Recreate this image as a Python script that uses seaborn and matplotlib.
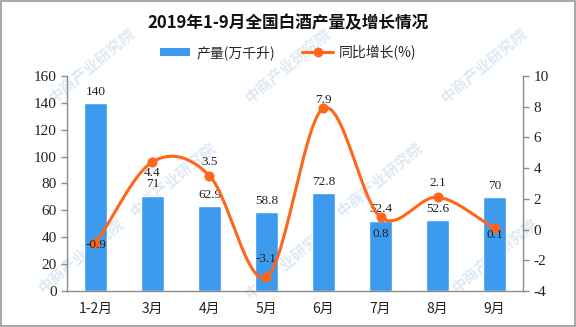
import numpy as np
import pandas as pd
import matplotlib
matplotlib.use("Agg")
import matplotlib.pyplot as plt
import seaborn as sns
from matplotlib.lines import Line2D
from matplotlib.patches import Patch, Rectangle

sns.set_theme(style="white")
plt.rcParams["font.family"] = ["Noto Sans CJK SC", "DejaVu Sans"]
plt.rcParams["axes.unicode_minus"] = False

# Data
months = ["1-2月", "3月", "4月", "5月", "6月", "7月", "8月", "9月"]
output = [140, 71, 62.9, 58.8, 72.8, 52.4, 52.6, 70]
growth = [-0.9, 4.4, 3.5, -3.1, 7.9, 0.8, 2.1, 0.1]
left_ticks = [0, 20, 40, 60, 80, 100, 120, 140, 160]
right_ticks = [-4, -2, 0, 2, 4, 6, 8, 10]

title = "2019年1-9月全国白酒产量及增长情况"
bar_name = "产量(万千升)"
line_name = "同比增长(%)"

BAR_C = "#3D9BEF"
LINE_C = "#FF661A"
AX_C = "#8C8C8C"

df = pd.DataFrame({"month": months, "output": output, "growth": growth})

fig = plt.figure(figsize=(5.76, 3.27), dpi=100)

# Watermark, drawn first so everything sits on top of it
wm = "中商产业研究院"
for (wx, wy) in [(0.16, 0.80), (0.50, 0.80), (0.84, 0.80),
                 (0.30, 0.45), (0.66, 0.45),
                 (0.14, 0.22), (0.50, 0.20), (0.86, 0.22)]:
    fig.text(wx, wy, wm, rotation=40, ha="center", va="center", fontsize=11,
             color="#DDEAF6", zorder=-5, fontweight="bold")

ax = fig.add_axes([0.1163, 0.110, 0.7917, 0.658])
ax.patch.set_alpha(0)

sns.barplot(data=df, x="month", y="output", color=BAR_C, width=0.42,
            saturation=1, ax=ax, zorder=2)
ax.set_ylim(0, 160)
ax.set_xlim(-0.5, len(months) - 0.5)
ax.set_yticks(left_ticks)
ax.set_xlabel("")
ax.set_ylabel("")

ax2 = ax.twinx()
ax2.patch.set_alpha(0)
ax2.set_ylim(-4, 10)
ax2.set_yticks(right_ticks)

# Smooth curve through the growth values (Catmull-Rom spline)
x = np.arange(len(growth), dtype=float)
y = np.array(growth, dtype=float)
px = np.concatenate([[2 * x[0] - x[1]], x, [2 * x[-1] - x[-2]]])
py = np.concatenate([[2 * y[0] - y[1]], y, [2 * y[-1] - y[-2]]])
sx, sy = [], []
t = np.linspace(0, 1, 30)
for i in range(1, len(px) - 2):
    p0, p1, p2, p3 = py[i - 1], py[i], py[i + 1], py[i + 2]
    q0, q1, q2, q3 = px[i - 1], px[i], px[i + 1], px[i + 2]
    cy = 0.5 * ((2 * p1) + (-p0 + p2) * t + (2 * p0 - 5 * p1 + 4 * p2 - p3) * t**2
                + (-p0 + 3 * p1 - 3 * p2 + p3) * t**3)
    cx = 0.5 * ((2 * q1) + (-q0 + q2) * t + (2 * q0 - 5 * q1 + 4 * q2 - q3) * t**2
                + (-q0 + 3 * q1 - 3 * q2 + q3) * t**3)
    sx.extend(cx)
    sy.extend(cy)
ax2.plot(sx, sy, color=LINE_C, lw=2.2, zorder=3, solid_capstyle="round")
sns.scatterplot(x=x, y=y, color=LINE_C, s=45, edgecolor=LINE_C, ax=ax2,
                zorder=4, legend=False)

num_font = dict(family=["Liberation Serif", "DejaVu Serif"], fontsize=9.5)

# Bar value labels
for i, v in enumerate(output):
    ax.annotate(f"{v:g}", (i, v), xytext=(0, 8), textcoords="offset points",
                ha="center", va="center", color="#222222", zorder=5, **num_font)

# Growth value labels (point offsets keep them clear of the curve)
label_dy = [-1, -8, 10, 13, 6, -12, 10, -5]
for i, v in enumerate(growth):
    ax2.annotate(f"{v:g}", (i, v), xytext=(0, label_dy[i]), textcoords="offset points",
                 ha="center", va="center", color="#222222", zorder=5, **num_font)

# Axes styling
for a in (ax, ax2):
    for s in a.spines.values():
        s.set_visible(False)
ax.spines["left"].set_visible(True)
ax.spines["bottom"].set_visible(True)
ax2.spines["right"].set_visible(True)
for s in (ax.spines["left"], ax.spines["bottom"], ax2.spines["right"]):
    s.set_color(AX_C)
    s.set_linewidth(1.0)

ax.set_xticks(np.arange(-0.5, len(months), 1.0), minor=False)
ax.set_xticklabels([""] * (len(months) + 1))
ax.set_xticks(np.arange(len(months)), minor=True)
ax.set_xticklabels(months, minor=True, fontsize=10)
ax.tick_params(axis="x", which="major", length=5, color=AX_C, width=1, direction="out")
ax.tick_params(axis="x", which="minor", length=0, pad=8, labelcolor="#222222")
ax.tick_params(axis="y", length=4, color=AX_C, width=1, direction="out",
               labelcolor="#222222", left=True)
ax2.tick_params(axis="y", length=4, color=AX_C, width=1, direction="out",
                labelcolor="#222222", right=True)
for lab in ax.get_yticklabels() + ax2.get_yticklabels():
    lab.set_family(["Liberation Serif", "DejaVu Serif"])
    lab.set_fontsize(11)
ax.grid(False)
ax2.grid(False)

# Title and legend
fig.text(0.5, 0.930, title, ha="center", va="center", fontsize=12, fontweight="bold",
         color="#111111", family=["Noto Sans CJK SC", "DejaVu Sans"])
handles = [Patch(facecolor=BAR_C, edgecolor="none", label=bar_name),
           Line2D([0], [0], color=LINE_C, lw=2.2, marker="o", markersize=6, label=line_name)]
fig.legend(handles=handles, loc="center", bbox_to_anchor=(0.5, 0.84), ncol=2,
           frameon=False, fontsize=10, handlelength=2.2, handleheight=0.5,
           columnspacing=2.0, handletextpad=0.4)

# Frame around the figure
fig.patches.append(Rectangle((0.001, 0.002), 0.997, 0.995, transform=fig.transFigure,
                             fill=False, edgecolor="#9A9A9A", lw=1.2))

fig.savefig("out.png", dpi=100)
